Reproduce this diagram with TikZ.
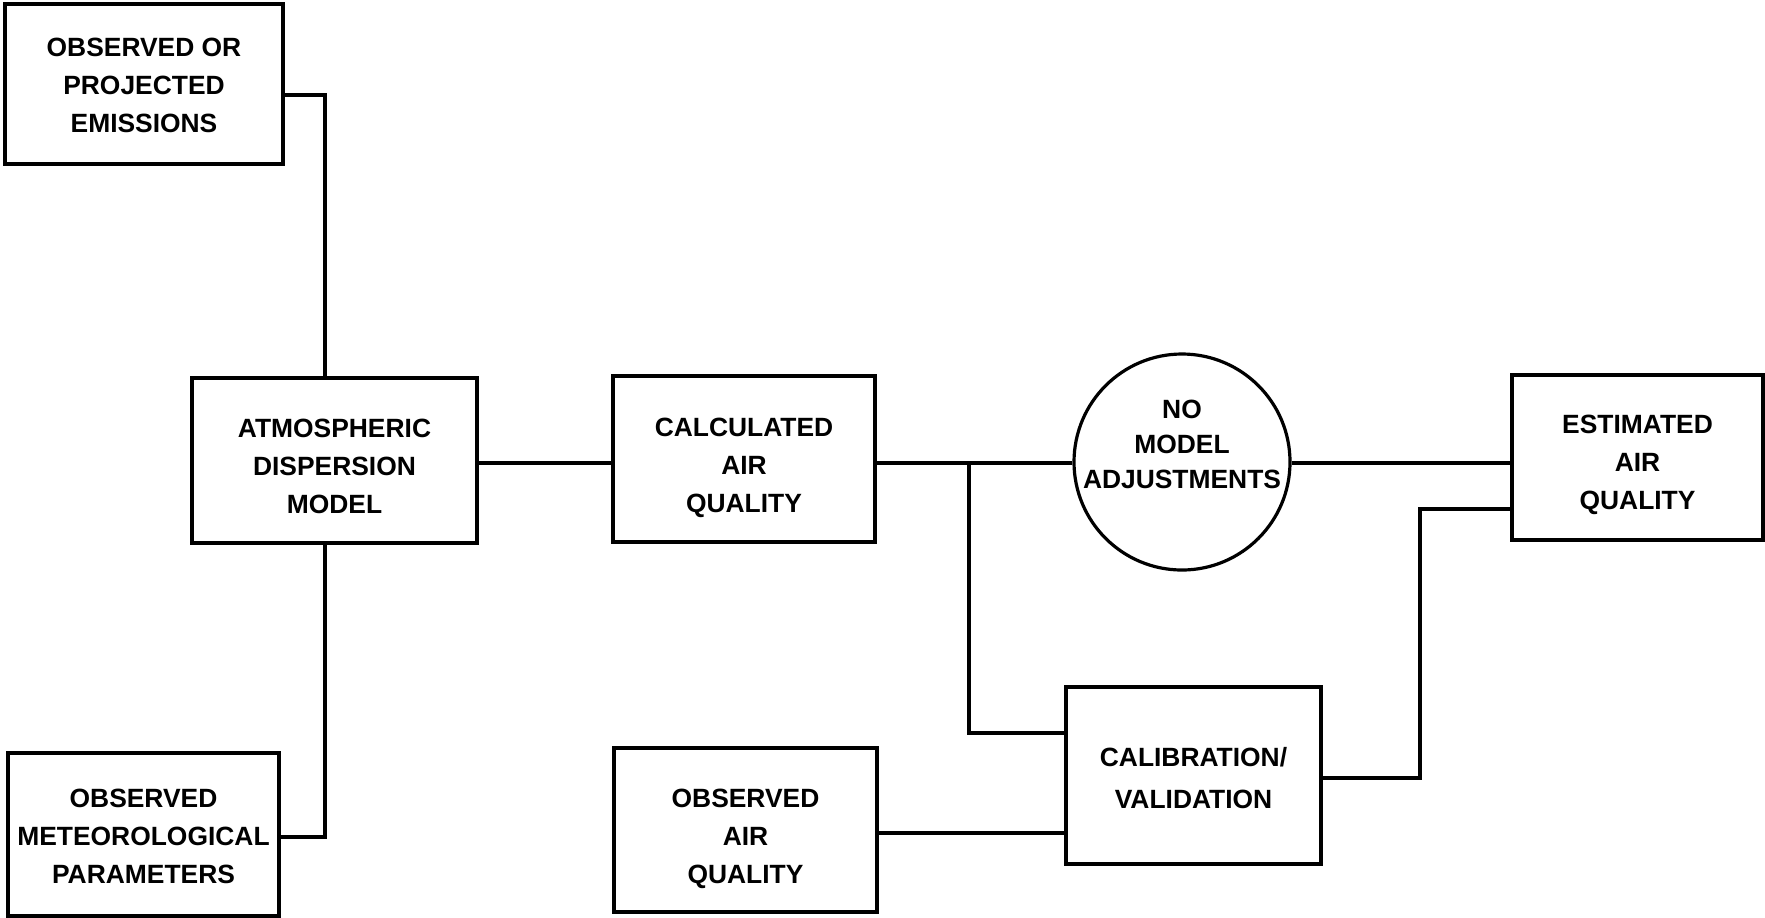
\documentclass[tikz,border=0pt]{standalone}
\usepackage{fontspec}
\setmainfont{Liberation Sans}
\begin{document}
\begin{tikzpicture}[x=0.5pt,y=-0.5pt,
  box/.style={draw,line width=1.6pt,rectangle,inner sep=0pt},
  conn/.style={line width=1.6pt},
  lbl/.style={align=center,font=\bfseries\fontsize{13.2}{19}\selectfont}]
\useasboundingbox (0,0) rectangle (1765,917);
\node[box,minimum width=139pt,minimum height=80pt,
  label={[lbl,yshift=-0.5pt]center:OBSERVED OR\\PROJECTED\\EMISSIONS}] (emis) at (144,84) {};
\node[box,minimum width=142.5pt,minimum height=82.5pt,
  label={[lbl,yshift=-3pt]center:ATMOSPHERIC\\DISPERSION\\MODEL}] (adm) at (334.5,460.5) {};
\node[box,minimum width=131pt,minimum height=83pt,
  label={[lbl,yshift=-4.5pt]center:CALCULATED\\AIR\\QUALITY}] (calc) at (744,459) {};
\node[draw,line width=1.6pt,circle,minimum size=108pt,inner sep=0pt,
  label={[lbl,font=\bfseries\fontsize{13.2}{17.5}\selectfont,yshift=9pt]center:NO\\MODEL\\ADJUSTMENTS}] (circ) at (1182,462) {};
\node[box,minimum width=125.5pt,minimum height=82.5pt,
  label={[lbl,yshift=-3.5pt]center:ESTIMATED\\AIR\\QUALITY}] (est) at (1637.5,457.5) {};
\node[box,minimum width=135.5pt,minimum height=81.5pt,
  label={[lbl,yshift=-1pt]center:OBSERVED\\METEOROLOGICAL\\PARAMETERS}] (met) at (143.5,834.5) {};
\node[box,minimum width=131.5pt,minimum height=82pt,
  label={[lbl,yshift=-4.5pt]center:OBSERVED\\AIR\\QUALITY}] (obsaq) at (745.5,830) {};
\node[box,minimum width=127.5pt,minimum height=88.5pt,
  label={[lbl,font=\bfseries\fontsize{13.2}{21}\selectfont,yshift=-1.5pt]center:CALIBRATION/\\VALIDATION}] (cal) at (1193.5,775.5) {};
\coordinate (j1) at (969,463);
\draw[conn] (emis.east |- 0,95) -| (adm.north -| 325,0);
\draw[conn] (met.east |- 0,837) -| (adm.south -| 325,0);
\draw[conn] (adm.east |- 0,463) -- (calc.west |- 0,463);
\draw[conn] (calc.east |- 0,463) -- (circ.west |- 0,463);
\draw[conn] (circ.east |- 0,463) -- (est.west |- 0,463);
\draw[conn] (j1) |- (cal.west |- 0,733);
\draw[conn] (obsaq.east |- 0,833) -- (cal.west |- 0,833);
\draw[conn] (cal.east |- 0,778) -- (1420,778) |- (est.west |- 0,509);
\end{tikzpicture}
\end{document}
